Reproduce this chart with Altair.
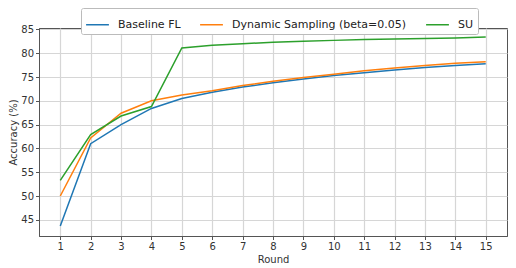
import altair as alt
import pandas as pd

rounds = list(range(1, 16))
baseline = [43.7, 61.0, 65.0, 68.4, 70.5, 71.8, 72.9, 73.8, 74.6, 75.3, 75.9, 76.5, 77.0, 77.4, 77.8]
dynamic = [50.0, 62.2, 67.4, 70.0, 71.2, 72.1, 73.2, 74.1, 74.9, 75.6, 76.3, 76.9, 77.4, 77.9, 78.2]
su = [53.3, 62.9, 66.8, 68.8, 81.1, 81.7, 82.0, 82.3, 82.5, 82.7, 82.9, 83.0, 83.1, 83.2, 83.4]
series_names = ["Baseline FL", "Dynamic Sampling (beta=0.05)", "SU"]
colors = ["#1f77b4", "#ff7f0e", "#2ca02c"]
y_ticks = [45, 50, 55, 60, 65, 70, 75, 80, 85]

rows = []
for name, vals in zip(series_names, [baseline, dynamic, su]):
    for r, v in zip(rounds, vals):
        rows.append({"Round": r, "Accuracy": v, "Series": name})
df = pd.DataFrame(rows)

font = "DejaVu Sans"

chart = alt.Chart(df).mark_line(strokeWidth=1.5).encode(
    x=alt.X("Round:Q",
            scale=alt.Scale(domain=[0.3, 15.7], nice=False, zero=False),
            axis=alt.Axis(values=rounds, title="Round", format="d", titlePadding=3)),
    y=alt.Y("Accuracy:Q",
            scale=alt.Scale(domain=[41.6, 85.3], nice=False, zero=False),
            axis=alt.Axis(values=y_ticks, title="Accuracy (%)", titlePadding=2)),
    color=alt.Color("Series:N",
                    scale=alt.Scale(domain=series_names, range=colors),
                    sort=series_names,
                    legend=alt.Legend(
                        title=None, orient="none", direction="horizontal",
                        legendX=42, legendY=-20,
                        symbolType="stroke", symbolSize=520, symbolStrokeWidth=1.5,
                        labelFont=font, labelFontSize=11, labelColor="#222222",
                        labelOffset=8, columnPadding=16, labelLimit=0,
                        padding=4, strokeColor="#bbbbbb", fillColor="white",
                        cornerRadius=2)),
).properties(
    width=468, height=208,
    autosize=alt.AutoSizeParams(type="none"),
    padding={"left": 31, "top": 20, "right": 1, "bottom": 34},
).configure_view(
    stroke="#555555", strokeWidth=1
).configure_axis(
    labelFont=font, titleFont=font, labelFontSize=10, titleFontSize=10,
    labelColor="#333333", titleColor="#333333", titleFontWeight="normal",
    domainColor="#555555", domainWidth=1, tickColor="#555555", tickSize=3.5,
    gridColor="#d6d6d6", gridWidth=1.2, labelPadding=2,
)

chart.save("out.html", embed_options={"renderer": "svg", "actions": False})
